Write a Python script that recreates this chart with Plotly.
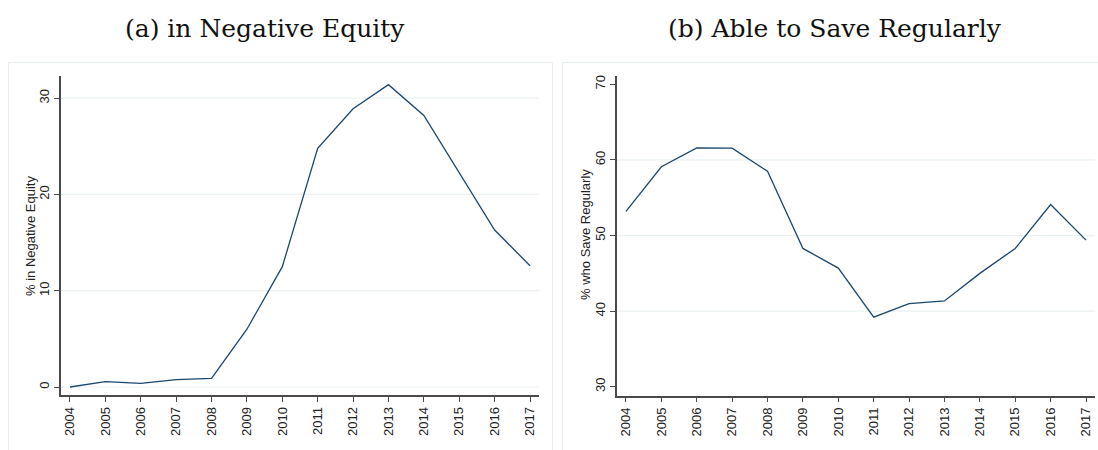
import plotly.graph_objects as go

years = list(range(2004, 2018))
neg_equity = [0.0, 0.55, 0.38, 0.76, 0.9, 6.0, 12.5, 24.8, 28.9, 31.4, 28.2, 22.2, 16.3, 12.6]
save_regularly = [53.2, 59.1, 61.6, 61.55, 58.5, 48.3, 45.7, 39.2, 41.0, 41.35, 45.0, 48.3, 54.1, 49.4]

left_ticks = [0, 10, 20, 30]
right_ticks = [30, 40, 50, 60, 70]
left_grid = [0, 10, 20, 30]
right_grid = [40, 50, 60]

W, H = 1098, 450
LINE = "#1a476f"
GRID = "#eaf1f2"
AXIS = "#4a4a4a"
FRAME = "#e6eeee"


def px_x(p):
    return p / W


def px_y(p):
    return 1 - p / H


fig = go.Figure()
fig.add_trace(go.Scatter(x=years, y=neg_equity, mode="lines",
                         line=dict(color=LINE, width=1.3), xaxis="x", yaxis="y",
                         showlegend=False))
fig.add_trace(go.Scatter(x=years, y=save_regularly, mode="lines",
                         line=dict(color=LINE, width=1.3), xaxis="x2", yaxis="y2",
                         showlegend=False))

tick_font = dict(family="Liberation Sans, Arial, sans-serif", size=13, color="#222")
common_x = dict(tickmode="array", tickvals=years, ticktext=[str(y) for y in years],
                tickangle=-90, ticks="outside", ticklen=5, tickcolor=AXIS, tickwidth=1.2,
                showline=True, linecolor=AXIS, linewidth=1.6, showgrid=False,
                zeroline=False, tickfont=tick_font, range=[2003.746, 2017.254])
common_y = dict(tickmode="array", tickangle=-90, ticks="outside", ticklen=5,
                tickcolor=AXIS, tickwidth=1.2, showline=True, linecolor=AXIS,
                linewidth=1.6, showgrid=False, zeroline=False, tickfont=tick_font)

fig.update_layout(
    width=W, height=H,
    margin=dict(l=0, r=0, t=0, b=0),
    paper_bgcolor="white", plot_bgcolor="white",
    xaxis=dict(common_x, domain=[px_x(61), px_x(539)], anchor="y"),
    yaxis=dict(common_y, domain=[px_y(395), px_y(76)], anchor="x",
               tickvals=left_ticks, ticktext=[str(v) for v in left_ticks],
               range=[-0.83, 32.3]),
    xaxis2=dict(common_x, domain=[px_x(617), px_x(1095)], anchor="y2"),
    yaxis2=dict(common_y, domain=[px_y(395.5), px_y(76)], anchor="x2",
                tickvals=right_ticks, ticktext=[str(v) for v in right_ticks],
                range=[28.85, 71.1]),
)

shapes = []
# outer graph-region frames
shapes.append(dict(type="rect", xref="paper", yref="paper",
                   x0=px_x(8.5), x1=px_x(552.5), y0=px_y(462), y1=px_y(62.5),
                   line=dict(color=FRAME, width=1), layer="below"))
shapes.append(dict(type="rect", xref="paper", yref="paper",
                   x0=px_x(562.5), x1=px_x(1110), y0=px_y(462), y1=px_y(62.5),
                   line=dict(color=FRAME, width=1), layer="below"))
# gridlines
for v in left_grid:
    shapes.append(dict(type="line", xref="x domain", yref="y", x0=0, x1=1, y0=v, y1=v,
                       line=dict(color=GRID, width=1.2), layer="below"))
for v in right_grid:
    shapes.append(dict(type="line", xref="x2 domain", yref="y2", x0=0, x1=1, y0=v, y1=v,
                       line=dict(color=GRID, width=1.2), layer="below"))
fig.update_layout(shapes=shapes)

title_font = dict(family="DejaVu Serif, Liberation Serif, serif", size=25, color="#111")
axis_title_font = dict(family="Liberation Sans, Arial, sans-serif", size=13, color="#222")
fig.update_layout(annotations=[
    dict(text="(a) in Negative Equity", x=px_x(265), y=px_y(29), xref="paper", yref="paper",
         showarrow=False, font=title_font, xanchor="center", yanchor="middle"),
    dict(text="(b) Able to Save Regularly", x=px_x(835), y=px_y(29), xref="paper", yref="paper",
         showarrow=False, font=title_font, xanchor="center", yanchor="middle"),
    dict(text="% in Negative Equity", x=px_x(30), y=px_y(236), xref="paper", yref="paper",
         showarrow=False, font=axis_title_font, textangle=-90,
         xanchor="center", yanchor="middle"),
    dict(text="% who Save Regularly", x=px_x(585), y=px_y(235), xref="paper", yref="paper",
         showarrow=False, font=axis_title_font, textangle=-90,
         xanchor="center", yanchor="middle"),
])

fig.write_html("out.html")
